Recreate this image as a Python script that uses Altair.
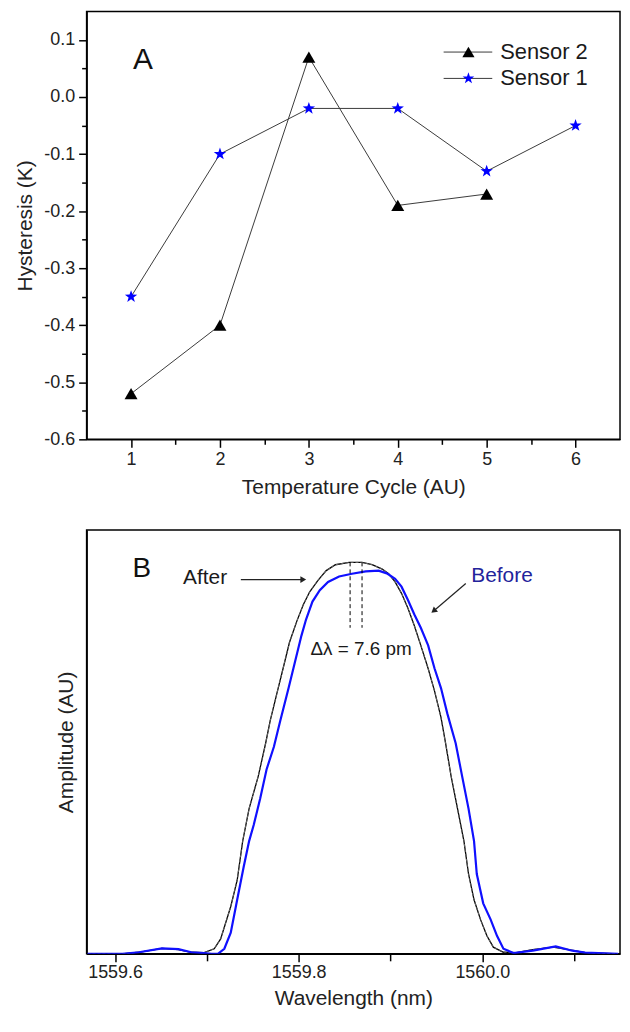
import altair as alt
import pandas as pd

FONT = "Liberation Sans"

# ---------------- Panel A data ----------------
cycle_s2 = [1, 2, 3, 4, 5]
hyst_s2 = [-0.52, -0.40, 0.07, -0.19, -0.17]
cycle_s1 = [1, 2, 3, 4, 5, 6]
hyst_s1 = [-0.35, -0.10, -0.02, -0.02, -0.13, -0.05]
series_names = ["Sensor 2", "Sensor 1"]
x_major_a = [1, 2, 3, 4, 5, 6]
x_minor_a = [1.5, 2.5, 3.5, 4.5, 5.5]
y_major_a = [-0.6, -0.5, -0.4, -0.3, -0.2, -0.1, 0.0, 0.1]
y_minor_a = [-0.55, -0.45, -0.35, -0.25, -0.15, -0.05, 0.05]

# ---------------- Panel B data ----------------
wl_after = [1559.570, 1559.608, 1559.626, 1559.651, 1559.669, 1559.683, 1559.697, 1559.708,
            1559.715, 1559.726, 1559.733, 1559.739, 1559.746, 1559.756, 1559.764, 1559.769,
            1559.776, 1559.783, 1559.790, 1559.798, 1559.805, 1559.812, 1559.821, 1559.830,
            1559.840, 1559.855, 1559.869, 1559.880, 1559.891, 1559.898, 1559.905, 1559.912,
            1559.919, 1559.926, 1559.933, 1559.941, 1559.948, 1559.955, 1559.960, 1559.966,
            1559.973, 1559.980, 1559.985, 1559.991, 1559.998, 1560.005, 1560.012, 1560.023,
            1560.037, 1560.055, 1560.077, 1560.094, 1560.112, 1560.148]
amp_after = [0.0, 0.0, 0.004, 0.014, 0.011, 0.004, 0.003, 0.013,
             0.038, 0.121, 0.188, 0.288, 0.371, 0.454, 0.538, 0.596,
             0.663, 0.729, 0.796, 0.850, 0.892, 0.925, 0.954, 0.979,
             0.994, 1.0, 1.0, 0.994, 0.983, 0.971, 0.950, 0.921,
             0.883, 0.838, 0.788, 0.729, 0.671, 0.604, 0.538, 0.454,
             0.371, 0.288, 0.204, 0.138, 0.088, 0.046, 0.017, 0.004,
             0.003, 0.011, 0.017, 0.011, 0.003, 0.0]
wl_before = [1559.570, 1559.608, 1559.626, 1559.651, 1559.669, 1559.683, 1559.697, 1559.705,
             1559.712, 1559.719, 1559.726, 1559.733, 1559.740, 1559.746, 1559.751, 1559.758,
             1559.765, 1559.773, 1559.780, 1559.789, 1559.796, 1559.803, 1559.808, 1559.815,
             1559.823, 1559.832, 1559.844, 1559.858, 1559.873, 1559.887, 1559.896, 1559.905,
             1559.912, 1559.919, 1559.926, 1559.933, 1559.941, 1559.948, 1559.955, 1559.962,
             1559.971, 1559.978, 1559.985, 1559.991, 1559.994, 1560.001, 1560.009, 1560.016,
             1560.023, 1560.034, 1560.055, 1560.080, 1560.098, 1560.112, 1560.148]
amp_before = [0.0, 0.0, 0.004, 0.014, 0.012, 0.004, 0.002, 0.0,
              0.0, 0.013, 0.054, 0.138, 0.221, 0.288, 0.329, 0.396,
              0.471, 0.529, 0.596, 0.679, 0.746, 0.813, 0.854, 0.900,
              0.929, 0.950, 0.964, 0.971, 0.977, 0.979, 0.972, 0.958,
              0.938, 0.904, 0.867, 0.833, 0.788, 0.729, 0.679, 0.613,
              0.538, 0.454, 0.371, 0.288, 0.204, 0.129, 0.088, 0.046,
              0.013, 0.002, 0.008, 0.019, 0.008, 0.003, 0.0]
x_major_b = [1559.6, 1559.8, 1560.0]
x_minor_b = [1559.7, 1559.9, 1560.1]
shift_marks_wl = [1559.856, 1559.869]
shift_label = "Δλ = 7.6 pm"

STAR = ("M0,-1L0.235,-0.324L0.951,-0.309L0.38,0.124L0.588,0.809L0,0.4"
        "L-0.588,0.809L-0.38,0.124L-0.951,-0.309L-0.235,-0.324Z")

# ---------------- Panel A ----------------
df_a = pd.DataFrame({
    "cycle": cycle_s2 + cycle_s1,
    "hyst": hyst_s2 + hyst_s1,
    "series": [series_names[0]] * len(cycle_s2) + [series_names[1]] * len(cycle_s1),
})
xs_a = alt.Scale(domain=[0.5, 6.5], nice=False, zero=False)
ys_a = alt.Scale(domain=[-0.6, 0.15], nice=False, zero=False)
NEG = "replace(format(datum.value, '.1f'), '\u2212', '-')"

def xa(field="cycle", axis=None):
    return alt.X(f"{field}:Q", scale=xs_a, axis=axis)

def ya(field="hyst", axis=None):
    return alt.Y(f"{field}:Q", scale=ys_a, axis=axis)

base_a = alt.Chart(df_a)
lines_a = base_a.mark_line(color="#3a3a3a", strokeWidth=1).encode(
    x=xa(axis=alt.Axis(values=x_major_a, format="d", title="Temperature Cycle (AU)",
                       tickSize=8, labelPadding=3, titlePadding=8, orient="bottom")),
    y=ya(axis=alt.Axis(values=y_major_a, labelExpr=NEG, title="Hysteresis (K)",
                       tickSize=8, labelPadding=4, titlePadding=8, orient="left")),
    detail="series:N",
)
tri_a = base_a.transform_filter(alt.datum.series == series_names[0]).mark_point(
    shape="triangle-up", filled=True, color="black", size=170, opacity=1).encode(x=xa(), y=ya())
star_a = base_a.transform_filter(alt.datum.series == series_names[1]).mark_point(
    shape=STAR, filled=True, color="#0000ff", size=170, opacity=1).encode(x=xa(), y=ya())
minor_a = base_a.mark_point(opacity=0).encode(
    x=xa(axis=alt.Axis(values=x_minor_a, labels=False, title=None, tickSize=5,
                       domain=False, orient="bottom")),
    y=ya(axis=alt.Axis(values=y_minor_a, labels=False, title=None, tickSize=5,
                       domain=False, orient="left")),
)

leg = pd.DataFrame({
    "x0": [4.516, 4.516], "x1": [5.063, 5.063], "xm": [4.795, 4.795], "xt": [5.152, 5.152],
    "y": [0.0788, 0.0326], "label": series_names,
})
leg_rule = alt.Chart(leg).mark_rule(color="#3a3a3a", strokeWidth=1).encode(
    x=xa("x0"), x2="x1", y=ya("y"))
leg_tri = alt.Chart(leg).transform_filter(alt.datum.label == series_names[0]).mark_point(
    shape="triangle-up", filled=True, color="black", size=150, opacity=1).encode(x=xa("xm"), y=ya("y"))
leg_star = alt.Chart(leg).transform_filter(alt.datum.label == series_names[1]).mark_point(
    shape=STAR, filled=True, color="#0000ff", size=150, opacity=1).encode(x=xa("xm"), y=ya("y"))
leg_text = alt.Chart(leg).mark_text(font=FONT, fontSize=22, align="left", baseline="middle",
                                    color="#1a1a1a").encode(x=xa("xt"), y=ya("y"), text="label:N")

lab_a = alt.Chart(pd.DataFrame({"x": [1.134], "y": [0.064], "t": ["A"]})).mark_text(
    font=FONT, fontSize=30, align="center", baseline="middle", color="#111").encode(
    x=xa("x"), y=ya("y"), text="t:N")

top = alt.layer(lines_a, tri_a, star_a, minor_a, leg_rule, leg_tri, leg_star, leg_text, lab_a).resolve_axis(
    x="independent", y="independent").properties(width=536, height=430)

# ---------------- Panel B ----------------
xs_b = alt.Scale(domain=[1559.569, 1560.150], nice=False, zero=False)
ys_b = alt.Scale(domain=[0, 1.083], nice=False, zero=False)

def xb(field="wl", axis=None):
    return alt.X(f"{field}:Q", scale=xs_b, axis=axis)

def yb(field="amp", axis=None):
    return alt.Y(f"{field}:Q", scale=ys_b, axis=axis)

df_after = pd.DataFrame({"wl": wl_after, "amp": amp_after})
df_before = pd.DataFrame({"wl": wl_before, "amp": amp_before})

after_solid = alt.Chart(df_after).mark_line(color="black", strokeWidth=1.3, clip=True).encode(
    x=xb(axis=alt.Axis(values=x_major_b, format=".1f", title="Wavelength (nm)",
                       tickSize=8, labelPadding=2, titlePadding=6, orient="bottom")),
    y=yb(axis=alt.Axis(title="Amplitude (AU)", ticks=False, labels=False,
                       titlePadding=10, orient="left")),
)
after_dash = alt.Chart(df_after).mark_line(color="#666", strokeWidth=1, strokeDash=[3, 2],
                                           clip=True).encode(x=xb(), y=yb())
before_line = alt.Chart(df_before).mark_line(color="#1010ff", strokeWidth=2.2, clip=True).encode(
    x=xb(), y=yb())
minor_b = alt.Chart(df_after).mark_point(opacity=0).encode(
    x=xb(axis=alt.Axis(values=x_minor_b, labels=False, title=None, tickSize=7,
                       domain=False, orient="bottom")),
    y=yb(),
)

dash_df = pd.DataFrame({"x": shift_marks_wl, "y0": [1.0, 1.0], "y1": [0.833, 0.833]})
dash_rules = alt.Chart(dash_df).mark_rule(color="black", strokeWidth=1, strokeDash=[4, 3]).encode(
    x=xb("x"), y=yb("y0"), y2="y1")

ann = pd.DataFrame({
    "x": [1559.868, 1559.674, 1559.988, 1559.629],
    "y": [0.778, 0.960, 0.965, 0.983],
    "t": [shift_label, "After", "Before", "B"],
})
ann_dl = alt.Chart(ann.iloc[[0]]).mark_text(font=FONT, fontSize=19, align="center",
                                            baseline="middle", color="#1a1a1a").encode(
    x=xb("x"), y=yb("y"), text="t:N")
ann_after = alt.Chart(ann.iloc[[1]]).mark_text(font=FONT, fontSize=21, align="left",
                                               baseline="middle", color="#1a1a1a").encode(
    x=xb("x"), y=yb("y"), text="t:N")
ann_before = alt.Chart(ann.iloc[[2]]).mark_text(font=FONT, fontSize=21, align="left",
                                                baseline="middle", color="#23239b").encode(
    x=xb("x"), y=yb("y"), text="t:N")
ann_b = alt.Chart(ann.iloc[[3]]).mark_text(font=FONT, fontSize=28, align="center",
                                           baseline="middle", color="#111").encode(
    x=xb("x"), y=yb("y"), text="t:N")

arrows = pd.DataFrame({
    "x0": [1559.737, 1559.982], "y0": [0.956, 0.946],
    "x1": [1559.805, 1559.947], "y1": [0.956, 0.876],
})
arrow_lines = alt.Chart(arrows).mark_rule(color="#222", strokeWidth=1.2).encode(
    x=xb("x0"), y=yb("y0"), x2="x1", y2="y1")
head_after = alt.Chart(arrows.iloc[[0]]).mark_point(shape="triangle-right", filled=True,
                                                    color="#222", size=45, opacity=1).encode(
    x=xb("x1"), y=yb("y1"))
head_before = alt.Chart(arrows.iloc[[1]]).mark_point(shape="triangle-up", filled=True,
                                                     color="#222", size=45, opacity=1,
                                                     angle=231).encode(
    x=xb("x1"), y=yb("y1"))

bottom = alt.layer(after_solid, after_dash, before_line, minor_b, dash_rules, ann_dl, ann_after,
                   ann_before, ann_b, arrow_lines, head_after, head_before).resolve_axis(
    x="independent", y="independent").properties(width=536, height=426)

chart = alt.vconcat(top, bottom, spacing=91, bounds="flush").properties(
    padding={"left": 6, "top": 0, "right": 0, "bottom": 0}
).configure(font=FONT).configure_view(
    stroke="black", strokeWidth=1.5
).configure_axis(
    labelFont=FONT, titleFont=FONT, labelFontSize=18, titleFontSize=21,
    titleFontWeight="normal", labelColor="#222", titleColor="#222",
    domainColor="black", domainWidth=1.5, tickColor="black", tickWidth=1.5, grid=False,
)

chart.save("out.html", embed_options={"renderer": "svg", "actions": False})
